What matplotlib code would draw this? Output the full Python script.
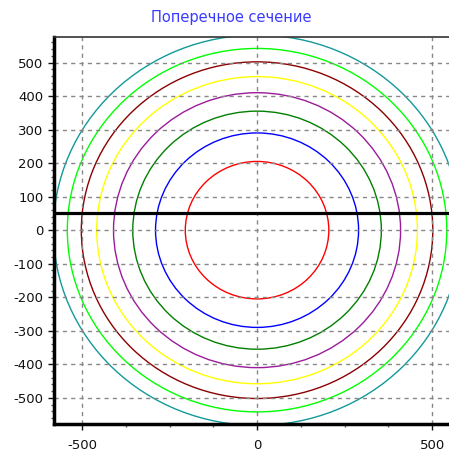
import matplotlib
matplotlib.use("Agg")
import matplotlib.pyplot as plt
from matplotlib.patches import Circle
from matplotlib.ticker import MultipleLocator

plt.rcParams['axes.unicode_minus'] = False

# радиусы изолиний и их цвета
radii = [205, 290, 355, 410, 458, 502, 542, 582]
colors = ['#ff0000', '#0000ff', '#008000', '#9b1b9b', '#ffff00', '#8b0000', '#00ff00', '#13999a']
level_y = 50  # горизонтальная линия
title = 'Поперечное сечение'

fig = plt.figure(figsize=(4.49, 4.59), dpi=100)
ax = fig.add_axes([0.1203, 0.0763, 0.92, 0.843])

for r, c in zip(radii, colors):
    ax.add_patch(Circle((0, 0), r, fill=False, edgecolor=c, linewidth=1.0))

ax.axhline(level_y, color='black', linewidth=2.3)

ax.set_xlim(-580, 600)
ax.set_ylim(-578, 576)

ax.xaxis.set_major_locator(MultipleLocator(500))
ax.xaxis.set_minor_locator(MultipleLocator(125))
ax.yaxis.set_major_locator(MultipleLocator(100))
ax.yaxis.set_minor_locator(MultipleLocator(20))
ax.tick_params(which='major', direction='out', length=4, width=1, labelsize=9.5, colors='#111111')
ax.tick_params(axis='x', which='major', pad=7)
ax.tick_params(which='minor', direction='out', length=2, width=1, color='#555555')
ax.grid(True, which='major', color='#888888', linestyle=(0, (3, 3)), linewidth=1)

ax.spines['left'].set_linewidth(2.5)
ax.spines['bottom'].set_linewidth(2.5)
ax.spines['top'].set_linewidth(1.2)
ax.spines['top'].set_color('#333333')
ax.spines['right'].set_visible(False)

fig.text(0.515, 0.962, title, ha='center', va='center', color='#3a3aff', fontsize=10.5)

fig.savefig('out.png', dpi=100)
